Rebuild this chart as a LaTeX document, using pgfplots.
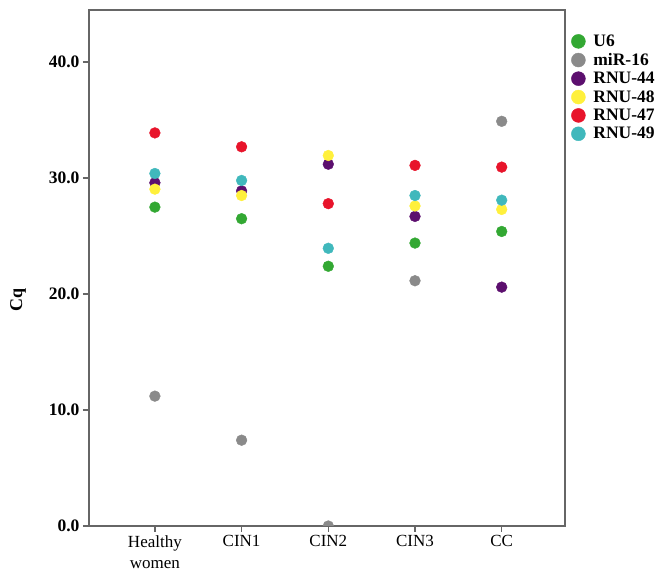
\documentclass[border=0pt]{standalone}
\usepackage{pgfplots}
\pgfplotsset{compat=1.18}
\usepackage{fontspec}
\setmainfont{Liberation Serif}
\definecolor{cU}{HTML}{33A833}
\definecolor{cM}{HTML}{8A8A8A}
\definecolor{cR44}{HTML}{5C0F6E}
\definecolor{cR48}{HTML}{FFF03C}
\definecolor{cR47}{HTML}{E8142B}
\definecolor{cR49}{HTML}{40B8BC}
\begin{document}
\begin{tikzpicture}
\begin{axis}[
    width=476pt, height=516pt,
    scale only axis,
    xmin=-0.76, xmax=4.73,
    ymin=0, ymax=44.5,
    xtick={0,1,2,3,4},
    xticklabels={Healthy\\women,CIN1,CIN2,CIN3,CC},
    xticklabel style={align=center, font=\fontsize{17}{21}\selectfont},
    ytick={0,10,20,30,40},
    yticklabel style={font=\fontsize{17.5}{19}\selectfont\bfseries},
    /pgf/number format/assume math mode=true,
    /pgf/number format/.cd, fixed, fixed zerofill, precision=1, /pgfplots/.cd,
    ylabel={\bfseries Cq},
    every axis y label/.style={at={(axis description cs:-0.149,0.438)},
        anchor=center, rotate=90, font=\fontsize{18}{20}\selectfont},
    tick align=outside, tick pos=left,
    major tick length=6pt,
    clip marker paths=true,
    axis line style={draw=black!60, line width=1.5pt},
    every tick/.style={black!60, line width=1.5pt},
    legend style={at={(1.0,0.96)}, anchor=north west, draw=none, fill=none,
        font=\fontsize{17.5}{18}\selectfont\bfseries, row sep=1.3pt,
        inner xsep=6pt},
    legend cell align=left,
    legend image code/.code={\fill[#1] (7pt,0pt) circle (7pt);
        \path[draw=none, fill=none] (0pt,0pt) -- (20pt,0pt);},
]
\addplot[only marks, mark=*, mark size=5.4pt, color=cU] coordinates {
    (0,27.5) (1,26.5) (2,22.4) (3,24.4) (4,25.4)};
\addlegendentry{U6}
\addplot[only marks, mark=*, mark size=5.4pt, color=cM] coordinates {
    (0,11.2) (1,7.4) (2,0) (3,21.15) (4,34.9)};
\addlegendentry{miR-16}
\addplot[only marks, mark=*, mark size=5.4pt, color=cR44] coordinates {
    (0,29.6) (1,28.9) (2,31.2) (3,26.7) (4,20.6)};
\addlegendentry{RNU-44}
\addplot[only marks, mark=*, mark size=5.4pt, color=cR48] coordinates {
    (0,29.05) (1,28.5) (2,31.95) (3,27.6) (4,27.3)};
\addlegendentry{RNU-48}
\addplot[only marks, mark=*, mark size=5.4pt, color=cR47] coordinates {
    (0,33.9) (1,32.7) (2,27.8) (3,31.1) (4,30.95)};
\addlegendentry{RNU-47}
\addplot[only marks, mark=*, mark size=5.4pt, color=cR49] coordinates {
    (0,30.4) (1,29.8) (2,23.95) (3,28.5) (4,28.1)};
\addlegendentry{RNU-49}
\end{axis}
\pgfresetboundingbox
\path[use as bounding box] (-89pt,-52pt) rectangle (568pt,526pt);
\end{tikzpicture}
\end{document}
